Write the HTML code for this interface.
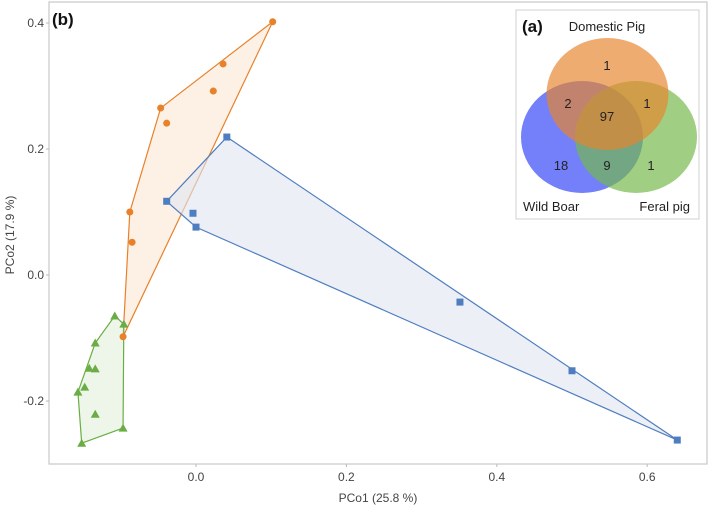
<!DOCTYPE html>
<html><head><meta charset="utf-8"><style>
body{margin:0;background:#fff}
svg{display:block;font-family:"Liberation Sans",Arial,sans-serif}
</style></head><body>
<svg id="chart" width="709" height="506" viewBox="0 0 709 506">
<rect x="0" y="0" width="709" height="506" fill="#fff"/>
<rect x="49" y="2" width="658" height="462" fill="none" stroke="#c8c8c8" stroke-width="1.2"/>
<g id="hulls"></g><g id="marks"></g><g id="ticks"></g>
<text x="52" y="25" font-size="17" font-weight="bold" fill="#111">(b)</text>
<text x="378" y="502" font-size="12" fill="#444" text-anchor="middle">PCo1 (25.8 %)</text>
<text transform="translate(14,235) rotate(-90)" font-size="12" fill="#444" text-anchor="middle">PCo2 (17.9 %)</text>
<g>
<rect x="516" y="10" width="183" height="209" fill="#fff" stroke="#d0d0d0"/>
<ellipse cx="582" cy="137" rx="61" ry="56" fill="#3d4ff7" fill-opacity="0.72"/>
<ellipse cx="636" cy="137" rx="61" ry="56" fill="#73b84a" fill-opacity="0.68"/>
<ellipse cx="607.5" cy="94" rx="61" ry="56" fill="#e8842c" fill-opacity="0.68"/>
<text x="522" y="32" font-size="17" font-weight="bold" fill="#111">(a)</text>
<text x="607" y="31" font-size="13" fill="#222" text-anchor="middle">Domestic Pig</text>
<g font-size="13" fill="#222" text-anchor="middle">
<text x="607" y="70">1</text>
<text x="568" y="108">2</text>
<text x="607" y="121">97</text>
<text x="647" y="108">1</text>
<text x="561" y="170">18</text>
<text x="607" y="170">9</text>
<text x="651" y="170">1</text>
</g>
<text x="523" y="211" font-size="13" fill="#222">Wild Boar</text>
<text x="690" y="211" font-size="13" fill="#222" text-anchor="end">Feral pig</text>
</g>
</svg>
<script>
const domesticX=[0.102,0.036,0.023,-0.047,-0.039,-0.088,-0.085,-0.097];
const domesticY=[0.402,0.335,0.292,0.265,0.241,0.100,0.052,-0.098];
const wildX=[0.041,-0.039,-0.004,0.000,0.351,0.500,0.640];
const wildY=[0.219,0.117,0.098,0.076,-0.043,-0.152,-0.262];
const feralX=[-0.108,-0.096,-0.134,-0.142,-0.134,-0.148,-0.157,-0.134,-0.097,-0.152];
const feralY=[-0.065,-0.078,-0.108,-0.148,-0.149,-0.178,-0.186,-0.221,-0.243,-0.267];
const xTicks=[0.0,0.2,0.4,0.6];
const yTicks=[-0.2,0.0,0.2,0.4];
const xTickLabels=["0.0","0.2","0.4","0.6"];
const yTickLabels=["-0.2","0.0","0.2","0.4"];
const NS="http://www.w3.org/2000/svg";
function sx(v){return 196+v*752;}
function sy(v){return 275-v*630;}
function mk(t,a){const e=document.createElementNS(NS,t);for(const k in a)e.setAttribute(k,a[k]);return e;}
function hull(pts){pts=pts.slice().sort((a,b)=>a[0]-b[0]||a[1]-b[1]);
 const cr=(o,a,b)=>(a[0]-o[0])*(b[1]-o[1])-(a[1]-o[1])*(b[0]-o[0]);
 const lo=[],up=[];
 for(const p of pts){while(lo.length>=2&&cr(lo[lo.length-2],lo[lo.length-1],p)<=0)lo.pop();lo.push(p);}
 for(const p of pts.slice().reverse()){while(up.length>=2&&cr(up[up.length-2],up[up.length-1],p)<=0)up.pop();up.push(p);}
 return lo.slice(0,-1).concat(up.slice(0,-1));}
const hulls=document.getElementById('hulls'),marks=document.getElementById('marks'),ticks=document.getElementById('ticks');
const groups=[
 {n:'domestic',X:domesticX,Y:domesticY,c:'#e8812a',f:'#fbe6d3',s:'circle'},
 {n:'wild-boar',X:wildX,Y:wildY,c:'#4f7ec0',f:'#dfe6f0',s:'square'},
 {n:'feral',X:feralX,Y:feralY,c:'#6aad45',f:'#e3f0da',s:'triangle'}];
groups.forEach(g=>{
 const pts=g.X.map((x,i)=>[sx(x),sy(g.Y[i])]);
 const h=hull(pts);
 const poly=mk('polygon',{points:h.map(p=>p.join(',')).join(' '),fill:g.f,'fill-opacity':'0.6',stroke:g.c,'stroke-width':'1.2'});
 
 
 hulls.appendChild(poly);
 pts.forEach(p=>{let e;
  if(g.s==='circle')e=mk('circle',{cx:p[0],cy:p[1],r:3.5,fill:g.c});
  else if(g.s==='square')e=mk('rect',{x:p[0]-3.5,y:p[1]-3.5,width:7,height:7,fill:g.c});
  else e=mk('polygon',{points:`${p[0]},${p[1]-4.5} ${p[0]-4.5},${p[1]+3.5} ${p[0]+4.5},${p[1]+3.5}`,fill:g.c});
  
  
  marks.appendChild(e);});
});
xTicks.forEach((v,i)=>{
 const t=mk('text',{x:sx(v),y:481,'font-size':12,fill:'#444','text-anchor':'middle'});
 t.textContent=xTickLabels[i];
 
 
 ticks.appendChild(t);
 const l=mk('line',{x1:sx(v),x2:sx(v),y1:464,y2:467,stroke:'#bbb'});
 ticks.appendChild(l);});
yTicks.forEach((v,i)=>{
 const t=mk('text',{x:44,y:sy(v)+4,'font-size':12,fill:'#444','text-anchor':'end'});
 t.textContent=yTickLabels[i];
 
 
 ticks.appendChild(t);
 const l=mk('line',{x1:46,x2:49,y1:sy(v),y2:sy(v),stroke:'#bbb'});
 ticks.appendChild(l);});
</script>
</body></html>
